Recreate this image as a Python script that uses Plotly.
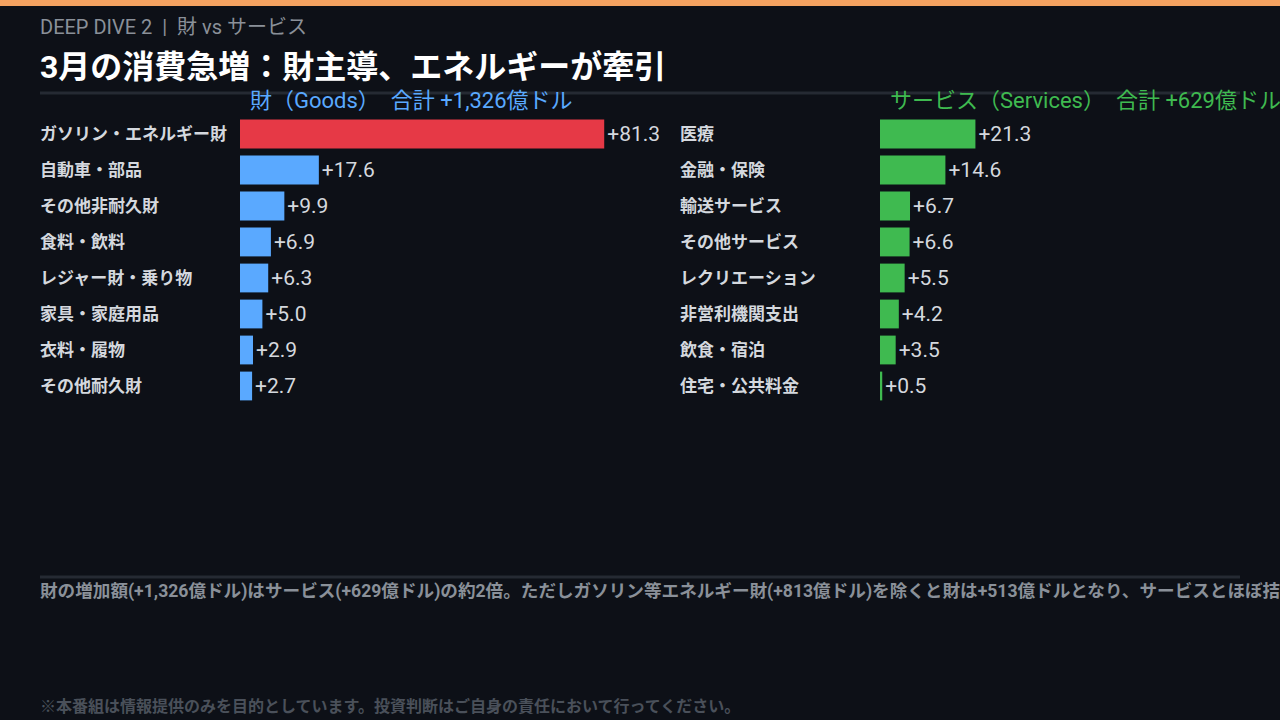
import plotly.graph_objects as go

# --- data (単位: 十億ドル) ---
goods_labels = ["ガソリン・エネルギー財", "自動車・部品", "その他非耐久財", "食料・飲料",
                "レジャー財・乗り物", "家具・家庭用品", "衣料・履物", "その他耐久財"]
goods_values = [81.3, 17.6, 9.9, 6.9, 6.3, 5.0, 2.9, 2.7]

services_labels = ["医療", "金融・保険", "輸送サービス", "その他サービス",
                   "レクリエーション", "非営利機関支出", "飲食・宿泊", "住宅・公共料金"]
services_values = [21.3, 14.6, 6.7, 6.6, 5.5, 4.2, 3.5, 0.5]

goods_total = "+1,326"
services_total = "+629"

BG = "#0d1017"
FONT = "Roboto, Noto Sans CJK JP, sans-serif"
RED = "#e63946"
BLUE = "#5aa9ff"
GREEN = "#3fba50"
LABEL = "#d4d8de"

W, H = 1280, 720


def px_x(p):
    return p / W


def px_y(p):
    return 1 - p / H


goods_colors = [RED if i == 0 else BLUE for i in range(len(goods_values))]

fig = go.Figure()
fig.add_trace(go.Bar(
    y=goods_labels, x=goods_values, orientation="h", xaxis="x", yaxis="y",
    marker=dict(color=goods_colors, line=dict(width=0)), width=0.8,
    text=[f"+{v:.1f}" for v in goods_values], textposition="outside",
    textfont=dict(family=FONT, size=21, color=LABEL), cliponaxis=False,
    hoverinfo="skip", showlegend=False))
fig.add_trace(go.Bar(
    y=services_labels, x=services_values, orientation="h", xaxis="x2", yaxis="y2",
    marker=dict(color=GREEN, line=dict(width=0)), width=0.8,
    text=[f"+{v:.1f}" for v in services_values], textposition="outside",
    textfont=dict(family=FONT, size=21, color=LABEL), cliponaxis=False,
    hoverinfo="skip", showlegend=False))

# scale: ~4.48 px per unit on both panels
g_start, s_start, ppu = 240, 880, 4.48
g_max, s_max = 90, 80
axis_common = dict(showgrid=False, zeroline=False, showticklabels=False, showline=False, fixedrange=True)
y_dom = [px_y(404), px_y(116)]

fig.update_layout(
    width=W, height=H, paper_bgcolor=BG, plot_bgcolor=BG,
    margin=dict(l=0, r=0, t=0, b=0),
    font=dict(family=FONT, color=LABEL),
    xaxis=dict(domain=[px_x(g_start), px_x(g_start + g_max * ppu)], range=[0, g_max], **axis_common),
    xaxis2=dict(domain=[px_x(s_start), px_x(s_start + s_max * ppu)], range=[0, s_max], anchor="y2", **axis_common),
    yaxis=dict(domain=y_dom, autorange="reversed", showticklabels=False, showgrid=False, zeroline=False),
    yaxis2=dict(domain=y_dom, autorange="reversed", showticklabels=False, showgrid=False, zeroline=False,
                anchor="x2"),
)

shapes = [
    dict(type="rect", xref="paper", yref="paper", x0=0, x1=1, y0=px_y(6), y1=1,
         fillcolor="#f4a261", line=dict(width=0)),
    dict(type="line", xref="paper", yref="paper", x0=px_x(40), x1=px_x(1240), y0=px_y(93), y1=px_y(93),
         line=dict(color="#252a33", width=3)),
    dict(type="line", xref="paper", yref="paper", x0=px_x(40), x1=px_x(1240), y0=px_y(577), y1=px_y(577),
         line=dict(color="#252a33", width=3)),
]

sep = "\u00a0\u00a0|\u00a0\u00a0"
annotations = [
    dict(text=f"DEEP DIVE 2{sep}財 vs サービス", x=px_x(38), y=px_y(27), xref="paper", yref="paper",
         xanchor="left", yanchor="middle", showarrow=False, font=dict(family=FONT, size=20, color="#8a9099")),
    dict(text="<b>3月の消費急増：財主導、エネルギーが牽引</b>", x=px_x(38), y=px_y(67), xref="paper", yref="paper",
         xanchor="left", yanchor="middle", showarrow=False, font=dict(family=FONT, size=32, color="#ffffff")),
    dict(text=f"財（Goods）　合計 {goods_total}億ドル", x=px_x(248), y=px_y(101), xref="paper", yref="paper",
         xanchor="left", yanchor="middle", showarrow=False, font=dict(family=FONT, size=22, color=BLUE)),
    dict(text=f"サービス（Services）　合計 {services_total}億ドル", x=px_x(888), y=px_y(101), xref="paper",
         yref="paper", xanchor="left", yanchor="middle", showarrow=False,
         font=dict(family=FONT, size=22, color=GREEN)),
    dict(text="<b>財の増加額(+1,326億ドル)はサービス(+629億ドル)の約2倍。ただしガソリン等エネルギー財(+813億ドル)を除くと財は+513億ドルとなり、サービスとほぼ拮抗。</b>",
         x=px_x(38), y=px_y(591), xref="paper", yref="paper", xanchor="left", yanchor="middle",
         showarrow=False, font=dict(family=FONT, size=17.6, color="#8a9099")),
    dict(text="<b>※本番組は情報提供のみを目的としています。投資判断はご自身の責任において行ってください。</b>",
         x=px_x(38), y=px_y(706), xref="paper", yref="paper", xanchor="left", yanchor="middle",
         showarrow=False, font=dict(family=FONT, size=16, color="#4a505a")),
]

for lab in goods_labels:
    annotations.append(dict(text=f"<b>{lab}</b>", x=px_x(38), y=lab, xref="paper", yref="y",
                            xanchor="left", yanchor="middle", showarrow=False,
                            font=dict(family=FONT, size=17, color=LABEL)))
for lab in services_labels:
    annotations.append(dict(text=f"<b>{lab}</b>", x=px_x(678), y=lab, xref="paper", yref="y2",
                            xanchor="left", yanchor="middle", showarrow=False,
                            font=dict(family=FONT, size=17, color=LABEL)))

fig.update_layout(shapes=shapes, annotations=annotations)

fig.write_html("out.html", config={"displayModeBar": False},
               post_script="document.body.style.margin='0';document.body.style.overflow='hidden';")
